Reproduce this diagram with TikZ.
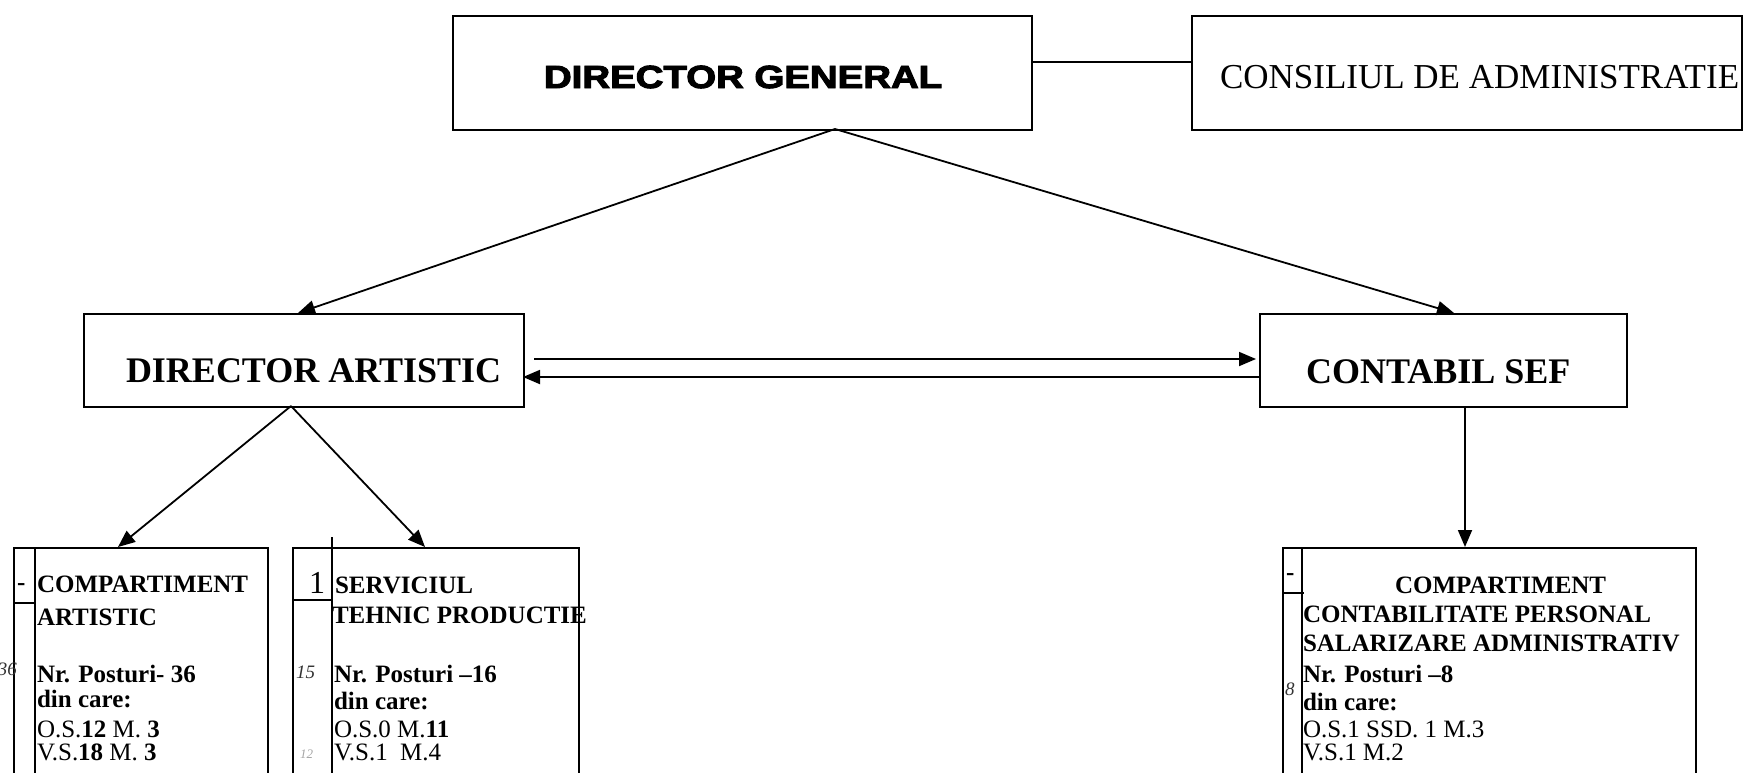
\documentclass[tikz,border=0pt]{standalone}
\usepackage{fontspec}
\setmainfont{Liberation Serif}
\newfontfamily\heavy{Liberation Sans}[BoldFeatures={FakeBold=3}]
\usetikzlibrary{arrows.meta}
\begin{document}
\begin{tikzpicture}[x=1pt,y=-1pt,
  box/.style={draw, line width=1.8pt, inner sep=0pt, anchor=north west},
  conn/.style={line width=1.8pt, -{Triangle[length=17pt,width=14pt]}},
  plain/.style={line width=1.8pt},
  txt/.style={anchor=base west, inner sep=0pt, outer sep=0pt},
  big/.style={font=\fontsize{36}{40}\selectfont\bfseries},
  hd/.style={font=\fontsize{25}{29}\selectfont\bfseries},
  rg/.style={font=\fontsize{25}{29}\selectfont},
  hand/.style={font=\fontsize{19}{22}\selectfont\itshape, text=black!80},
]
\useasboundingbox[fill=white] (0,0) rectangle (1760,772);

% boxes
\node[box, minimum width=579pt, minimum height=114pt] (dg) at (452,15) {};
\node[box, minimum width=550pt, minimum height=114pt] (ca) at (1191,15) {};
\node[box, minimum width=440pt, minimum height=93pt] (da) at (83,313) {};
\node[box, minimum width=367pt, minimum height=93pt] (cs) at (1259,313) {};
\node[box, minimum width=254pt, minimum height=260pt] (c1) at (13,547) {};
\node[box, minimum width=286pt, minimum height=260pt] (c2) at (292,547) {};
\node[box, minimum width=413pt, minimum height=260pt] (c3) at (1282,547) {};

% inner columns and cells
\coordinate (c1a) at (35,547);  \coordinate (c1b) at (35,800);
\coordinate (c2a) at (332,537); \coordinate (c2b) at (332,800);
\coordinate (c3a) at (1302,547); \coordinate (c3b) at (1302,800);
\draw[plain] (c1a) -- (c1b);
\draw[plain] (c2a) -- (c2b);
\draw[plain] (c3a) -- (c3b);
\coordinate (c1c) at (13,603);  \coordinate (c1d) at (35,603);
\coordinate (c2c) at (292,600); \coordinate (c2d) at (332,600);
\coordinate (c3c) at (1282,593); \coordinate (c3d) at (1304,593);
\draw[plain] (c1c) -- (c1d);
\draw[plain] (c2c) -- (c2d);
\draw[plain] (c3c) -- (c3d);

% connectors
\coordinate (dgr) at (1031,62);
\coordinate (cal) at (1191,62);
\draw[plain] (dgr) -- (cal);
\coordinate (dgout) at (835,129);
\coordinate (daIn) at (298,313);
\coordinate (csIn) at (1454,313);
\draw[conn] (dgout) -- (daIn);
\draw[conn] (dgout) -- (csIn);
\coordinate (upA) at (534,359);
\coordinate (upB) at (1256,359);
\coordinate (loA) at (1259,377);
\coordinate (loB) at (523,377);
\draw[conn] (upA) -- (upB);
\draw[conn] (loA) -- (loB);
\coordinate (daOut) at (291,406);
\coordinate (c1In) at (118,547);
\coordinate (c2In) at (425,547);
\draw[conn] (daOut) -- (c1In);
\draw[conn] (daOut) -- (c2In);
\coordinate (csOut) at (1465,406);
\coordinate (c3In) at (1465,547);
\draw[conn] (csOut) -- (c3In);

% top texts
\node[txt, font=\heavy\bfseries\fontsize{32}{36}\selectfont] (dgt) at (544,88) {\scalebox{1.2}[1]{DIRECTOR GENERAL}};
\node[txt, font=\fontsize{35}{40}\selectfont] (cat) at (1220,88) {CONSILIUL DE ADMINISTRATIE};
\node[txt, big] (dat) at (126,382) {DIRECTOR ARTISTIC};
\node[txt, big] (cst) at (1306,383) {CONTABIL SEF};

% box 1
\node[txt, hd] (c1m) at (17,590) {-};
\node[txt, hd] (c1t1) at (37,592) {COMPARTIMENT};
\node[txt, hd] (c1t2) at (37,625) {ARTISTIC};
\node[txt, hand] (c1n) at (-2,675) {36};
\node[txt, hd] (c1t3) at (37,682) {Nr. Posturi- 36};
\node[txt, hd] (c1t4) at (37,707) {din care:};
\node[txt, rg] (c1t5) at (37,737) {O.S.\textbf{12} M. \textbf{3}};
\node[txt, rg] (c1t6) at (37,760) {V.S.\textbf{18} M. \textbf{3}};

% box 2
\node[anchor=base, inner sep=0pt, font=\fontsize{32}{36}\selectfont] (c2m) at (317,593) {1};
\node[txt, hd] (c2t1) at (335,593) {SERVICIUL};
\node[txt, hd] (c2t2) at (332,623) {TEHNIC PRODUCTIE};
\node[txt, hand] (c2n) at (296,678) {15};
\node[txt, font=\fontsize{13}{15}\selectfont\itshape, text=black!35] (c2n2) at (300,758) {12};
\node[txt, hd] (c2t3) at (334,682) {Nr. Posturi –16};
\node[txt, hd] (c2t4) at (334,709) {din care:};
\node[txt, rg] (c2t5) at (334,737) {O.S.0 M.\textbf{11}};
\node[txt, rg] (c2t6) at (334,760) {V.S.1\ \ M.4};

% box 3
\node[txt, hd] (c3m) at (1286,580) {-};
\node[txt, hd] (c3t1) at (1395,593) {COMPARTIMENT};
\node[txt, hd] (c3t2) at (1303,622) {CONTABILITATE PERSONAL};
\node[txt, hd] (c3t3) at (1303,651) {SALARIZARE ADMINISTRATIV};
\node[txt, hand] (c3n) at (1285,695) {8};
\node[txt, hd] (c3t4) at (1303,682) {Nr. Posturi –8};
\node[txt, hd] (c3t5) at (1303,710) {din care:};
\node[txt, rg] (c3t6) at (1303,737) {O.S.1 SSD. 1 M.3};
\node[txt, rg] (c3t7) at (1303,760) {V.S.1 M.2};
\end{tikzpicture}
\end{document}
